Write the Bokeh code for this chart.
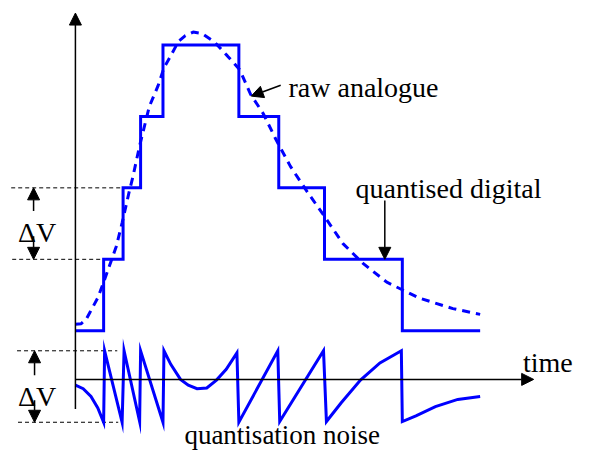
from bokeh.plotting import figure
from bokeh.models import Range1d, Arrow, NormalHead, ColumnDataSource
from bokeh.embed import file_html
from bokeh.resources import INLINE
from bokeh.core.properties import value

# ---------------- data (time in arbitrary units, voltage in units of ΔV) -------------
step_time = [77, 106, 126, 144, 167, 245, 286, 333, 413, 493]
step_level = [0, 1, 2, 3, 4, 3, 2, 1, 0, 0]

analog_time = [77, 83, 88, 92, 100, 106, 112, 119, 125, 132, 136, 143, 153, 162, 168,
               175, 183, 190, 198, 207, 220, 233, 246, 257, 270, 283, 298, 315, 332,
               352, 372, 397, 430, 465, 493]
analog_level = [0.09, 0.10, 0.16, 0.26, 0.46, 0.68, 0.91, 1.18, 1.51, 1.93, 2.15, 2.59,
                3.14, 3.43, 3.68, 3.85, 4.05, 4.13, 4.18, 4.16, 4.04, 3.85, 3.65, 3.31,
                3.04, 2.68, 2.30, 1.95, 1.62, 1.22, 0.95, 0.68, 0.46, 0.31, 0.23]

noise_time = [77, 85, 93, 100, 106, 107, 125, 127, 143, 144, 167, 168, 175, 185, 193,
              202, 212, 222, 232, 243, 245, 285, 287, 332, 335, 350, 370, 390, 412,
              413, 427, 447, 470, 493]
noise_value = [-0.08, -0.13, -0.24, -0.40, -0.60, 0.40, -0.60, 0.40, -0.59, 0.40,
               -0.60, 0.40, 0.21, 0.00, -0.08, -0.13, -0.12, -0.01, 0.14, 0.37, -0.60,
               0.40, -0.59, 0.40, -0.59, -0.33, -0.01, 0.23, 0.40, -0.59, -0.51, -0.38,
               -0.28, -0.24]
noise_band = [-0.60, 0.40]

label_texts = ["raw analogue", "quantised digital", "time", "ΔV", "ΔV"]
bottom_label = "quantisation noise"

# ---------------- layout helpers ----------------
PX_PER_DV = 74.0
LEVEL0_PX = 342.0
NOISE_ZERO = -0.68          # vertical position of the noise trace's zero line
BLUE = "#0000FF"


def ypx(y):
    return (LEVEL0_PX - y) / PX_PER_DV


p = figure(width=575, height=451, output_backend="svg", toolbar_location=None,
           x_range=Range1d(0, 591), y_range=Range1d(ypx(467), ypx(0)),
           x_axis_type=None, y_axis_type=None, min_border=0)
p.outline_line_color = None
p.grid.visible = False
p.background_fill_color = "white"
p.border_fill_color = "white"

# black dashed ΔV reference lines
p.segment(x0=[11, 12], y0=[step_level[2], step_level[1]],
          x1=[step_time[2], step_time[1]], y1=[step_level[2], step_level[1]],
          line_color="black", line_width=1, line_dash="4 3")
p.segment(x0=[17, 18], y0=[NOISE_ZERO + noise_band[1], NOISE_ZERO + noise_band[0]],
          x1=[120, 121], y1=[NOISE_ZERO + noise_band[1], NOISE_ZERO + noise_band[0]],
          line_color="black", line_width=1, line_dash="4 3")

# axes
p.add_layout(Arrow(end=NormalHead(size=12, fill_color="black", line_color="black"),
                   x_start=77, y_start=ypx(423), x_end=77, y_end=ypx(13),
                   line_color="black", line_width=1.5))
p.add_layout(Arrow(end=NormalHead(size=12, fill_color="black", line_color="black"),
                   x_start=77, y_start=NOISE_ZERO, x_end=548, y_end=NOISE_ZERO,
                   line_color="black", line_width=1.5))

# signals
p.step(x=step_time, y=step_level, mode="after", line_color=BLUE, line_width=3,
       line_join="miter")
p.line(x=analog_time, y=analog_level, line_color=BLUE, line_width=3, line_dash="8 6")
p.line(x=noise_time, y=[NOISE_ZERO + v for v in noise_value], line_color=BLUE,
       line_width=3, line_join="miter")


def arrow(x0, y0, x1, y1):
    p.add_layout(Arrow(end=NormalHead(size=12, fill_color="black", line_color="black"),
                       x_start=x0, y_start=y0, x_end=x1, y_end=y1,
                       line_color="black", line_width=1.5))


# ΔV arrows
arrow(34, ypx(218), 34, step_level[2])
arrow(34, ypx(244), 34, step_level[1])
arrow(35, ypx(388), 35, NOISE_ZERO + noise_band[1])
arrow(35, ypx(414), 35, NOISE_ZERO + noise_band[0])
# pointer arrows
arrow(288, ypx(87.7), 257.7, ypx(99))
arrow(395, ypx(207), 395, step_level[1])

# labels
src = ColumnDataSource(dict(
    x=[296, 365, 537, 18, 18],
    y=[ypx(90), ypx(195), ypx(375), ypx(240), ypx(410)],
    text=label_texts))
p.text(x="x", y="y", text="text", source=src,
       text_font=value("Liberation Serif"),
       text_font_size=value("28px"), text_color="black", text_align="left",
       text_baseline="alphabetic")
p.text(x=[189], y=[ypx(450)], text=[bottom_label],
       text_font=value("Liberation Serif"),
       text_font_size=value("27px"), text_color="black", text_align="left",
       text_baseline="alphabetic")

open("out.html", "w").write(file_html(p, INLINE))
